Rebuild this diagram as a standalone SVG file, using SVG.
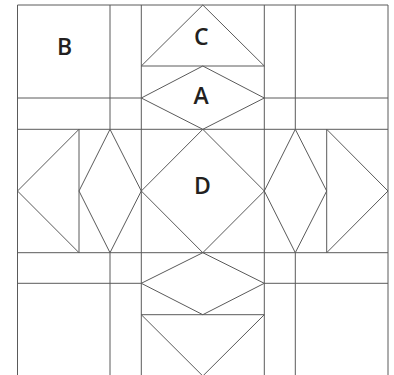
<svg xmlns="http://www.w3.org/2000/svg" width="394" height="375" viewBox="0 0 394 375">
<style>
.l{stroke:#5a5a5a;stroke-width:1;fill:none}
.t{font-family:"Open Sans","Liberation Sans",sans-serif;font-weight:600;font-size:23px;fill:#231f20;text-anchor:middle}
</style>
<rect width="394" height="375" fill="#fff"/>
<g id="grid" class="l">
<path d="M17.5,5H388M17.5,5V375M388,5V375M141.3,5V375M264.3,5V375"/>
<path d="M17.5,98H141.3M264.3,98H388M17.5,129.3H388M17.5,252.7H388M17.5,283.3H141.3M264.3,283.3H388"/>
<path d="M110,5V129.3M110,252.7V375M295.3,5V129.3M295.3,252.7V375M79,129.3V252.7M326.7,129.3V252.7"/>
</g>
<g id="shapes" class="l">
<path d="M141.3,66L202.8,5L264.3,66Z"/>
<path d="M202.8,66L264.3,98L202.8,129.3L141.3,98Z"/>
<path d="M202.8,129.3L264.3,191L202.8,252.7L141.3,191Z"/>
<path d="M202.8,252.7L264.3,283.3L202.8,314.7L141.3,283.3Z"/>
<path d="M141.3,314.7H264.3L202.8,376Z"/>
<path d="M79,129.3L17.5,191L79,252.7"/>
<path d="M110,129.3L141.3,191L110,252.7L79,191Z"/>
<path d="M295.3,129.3L326.7,191L295.3,252.7L264.3,191Z"/>
<path d="M326.7,129.3L388,191L326.7,252.7"/>
</g>
<g id="labels">
<text class="t" x="64.7" y="55">B</text>
<text class="t" x="201.2" y="45">C</text>
<text class="t" x="201.2" y="104.3">A</text>
<text class="t" x="202.5" y="194.3">D</text>
</g>
</svg>
